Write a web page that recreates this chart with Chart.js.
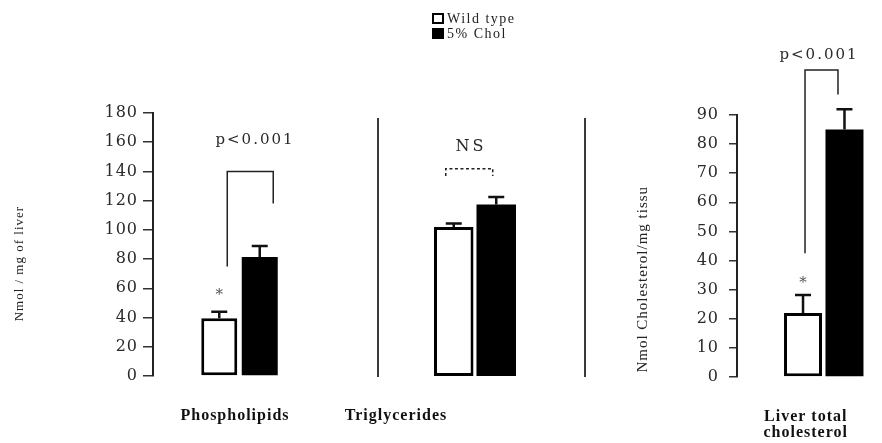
<!DOCTYPE html>
<html><head><meta charset="utf-8">
<script src="https://cdn.jsdelivr.net/npm/chart.js@4.4.1/dist/chart.umd.min.js"></script>
<style>
html,body{margin:0;padding:0;background:#fff;width:882px;height:443px;overflow:hidden;position:relative;}
.box{position:absolute;top:0;height:443px;}
</style></head><body>
<div class="box" style="left:0;width:330px"><canvas id="c1"></canvas></div>
<div class="box" style="left:330px;width:300px"><canvas id="c2"></canvas></div>
<div class="box" style="left:600px;width:320px"><canvas id="c3"></canvas></div>
<script>
// ---------- data ----------
const groupLabels = ['Wild type', '5% Chol'];

const phosphoLabels = ['Phospholipids'];
const phosphoWT = [39.5];
const phosphoChol = [81.5];
const phosphoWTErr = [4.5];
const phosphoCholErr = [7.5];
const phosphoTicks = [0, 20, 40, 60, 80, 100, 120, 140, 160, 180];
const phosphoSig = [75, 140, 118];      // left leg base, top, right leg base
const phosphoSigText = ['p<0.001', 161.5];
const phosphoStar = 57.5;

const trigLabels = ['Triglycerides'];
const trigWT = [102];
const trigChol = [117.5];
const trigWTErr = [2.5];
const trigCholErr = [5];
const trigSig = [137, 142, 137];
const trigSigText = ['NS', 157];

const cholLabels = [['Liver total', 'cholesterol']];
const cholWT = [22];
const cholChol = [85];
const cholWTErr = [6.2];
const cholCholErr = [7];
const cholTicks = [0, 10, 20, 30, 40, 50, 60, 70, 80, 90];
const cholSig = [42.5, 105.5, 97];
const cholSigText = ['p<0.001', 110.6];
const cholStar = 33.3;

// ---------- helpers ----------
const SERIF = "'Liberation Serif', 'Times New Roman', serif";
const DSERIF = "'DejaVu Serif', serif";

const spacing = { id: 'spacing', beforeDraw(chart) { chart.ctx.letterSpacing = '1px'; } };

function makeAnnot(cfg) {
  return {
    id: 'annot',
    afterDatasetsDraw(chart) {
      const ctx = chart.ctx, y = chart.scales.y;
      const a = chart.getDatasetMeta(0).data[0];
      const b = chart.getDatasetMeta(1).data[0];
      ctx.save();
      ctx.letterSpacing = '0px';
      // error bars
      chart.data.datasets.forEach((ds, i) => {
        chart.getDatasetMeta(i).data.forEach((bar, j) => {
          const top = y.getPixelForValue(ds.data[j] + ds.errors[j]);
          ctx.strokeStyle = '#111';
          ctx.lineWidth = 2.5;
          ctx.beginPath();
          ctx.moveTo(bar.x, bar.y);
          ctx.lineTo(bar.x, top);
          ctx.moveTo(bar.x - 8, top);
          ctx.lineTo(bar.x + 8, top);
          ctx.stroke();
        });
      });
      // significance bracket
      if (cfg.sig) {
        const x1 = a.x + cfg.dx1, x2 = b.x + cfg.dx2;
        ctx.strokeStyle = '#222';
        ctx.lineWidth = 1.5;
        ctx.setLineDash(cfg.dashed ? [3, 2.5] : []);
        ctx.beginPath();
        ctx.moveTo(x1, y.getPixelForValue(cfg.sig[0]));
        ctx.lineTo(x1, y.getPixelForValue(cfg.sig[1]));
        ctx.lineTo(x2, y.getPixelForValue(cfg.sig[1]));
        ctx.lineTo(x2, y.getPixelForValue(cfg.sig[2]));
        ctx.stroke();
        ctx.setLineDash([]);
        ctx.fillStyle = '#2a2a2a';
        ctx.font = cfg.textFont;
        ctx.letterSpacing = cfg.textSpacing;
        ctx.textAlign = 'center';
        ctx.textBaseline = 'middle';
        ctx.fillText(cfg.text[0], (a.x + b.x) / 2 + cfg.tdx, y.getPixelForValue(cfg.text[1]));
      }
      if (cfg.star !== undefined) {
        ctx.letterSpacing = '0px';
        ctx.fillStyle = '#555';
        ctx.font = "15px " + DSERIF;
        ctx.textAlign = 'center';
        ctx.textBaseline = 'middle';
        ctx.fillText('*', a.x, y.getPixelForValue(cfg.star) + 3);
      }
      // legend
      if (cfg.legend) {
        const L = cfg.legend;
        chart.data.datasets.forEach((ds, i) => {
          const yy = L.y + i * L.dy;
          ctx.fillStyle = ds.backgroundColor;
          ctx.fillRect(L.x, yy, 12, 11);
          ctx.strokeStyle = '#000';
          ctx.lineWidth = 2;
          ctx.strokeRect(L.x + 1, yy + 1, 10, 9);
          ctx.fillStyle = '#222';
          ctx.font = "14px " + SERIF;
          ctx.letterSpacing = '1.5px';
          ctx.textAlign = 'left';
          ctx.textBaseline = 'middle';
          ctx.fillText(ds.label, L.x + 15, yy + 6);
        });
      }
      ctx.restore();
    }
  };
}

function datasets(wt, chol, wtErr, cholErr, cp, bp) {
  return [
    { label: groupLabels[0], data: wt, errors: wtErr, backgroundColor: '#ffffff', borderColor: '#000',
      borderWidth: 3, borderSkipped: false, categoryPercentage: cp, barPercentage: bp },
    { label: groupLabels[1], data: chol, errors: cholErr, backgroundColor: '#000000', borderColor: '#000',
      borderWidth: 0, categoryPercentage: cp, barPercentage: bp }
  ];
}

function xAxis(height, pad, offset) {
  return {
    grid: { display: false, drawTicks: false },
    border: { display: false },
    ticks: { font: { family: SERIF, size: 16, weight: 'bold', lineHeight: 1.05 }, color: '#111',
             padding: pad, labelOffset: offset, maxRotation: 0, autoSkip: false },
    afterFit: s => { s.height = height; }
  };
}

const baseOpts = {
  responsive: true, maintainAspectRatio: false, animation: false,
  plugins: { legend: { display: false }, tooltip: { enabled: false } }
};

// ---------- chart 1 : phospholipids ----------
new Chart(document.getElementById('c1'), {
  type: 'bar',
  data: { labels: phosphoLabels, datasets: datasets(phosphoWT, phosphoChol, phosphoWTErr, phosphoCholErr, 0.468, 0.889) },
  options: Object.assign({}, baseOpts, {
    layout: { padding: { left: 0, right: 4, top: 113, bottom: 0 } },
    scales: {
      x: xAxis(67, 31, -4.5),
      y: {
        min: 0, max: 180,
        afterBuildTicks: s => { s.ticks = phosphoTicks.map(v => ({ value: v })); },
        grid: { drawOnChartArea: false, drawTicks: true, tickLength: 10, color: '#333', lineWidth: 1.5 },
        border: { display: true, color: '#222', width: 2 },
        ticks: { font: { family: DSERIF, size: 16 }, color: '#2a2a2a', padding: 5 },
        title: { display: true, text: 'Nmol / mg of liver' + '         ', font: { family: SERIF, size: 13 }, color: '#222', padding: 12 },
        afterFit: s => { s.width = 153; }
      }
    }
  }),
  plugins: [spacing, makeAnnot({ sig: phosphoSig, dx1: 8, dx2: 13.5, text: phosphoSigText, tdx: 15.5,
    textFont: "15px " + DSERIF, textSpacing: '2px', star: phosphoStar })]
});

// ---------- chart 2 : triglycerides ----------
new Chart(document.getElementById('c2'), {
  type: 'bar',
  data: { labels: trigLabels, datasets: datasets(trigWT, trigChol, trigWTErr, trigCholErr, 0.438, 0.93) },
  options: Object.assign({}, baseOpts, {
    layout: { padding: { left: 0, right: 0, top: 119, bottom: 0 } },
    scales: {
      x: xAxis(67, 31, -79),
      y: {
        min: 0, max: 176,
        ticks: { display: false }, grid: { display: false },
        border: { display: true, color: '#3a3a3a', width: 2 },
        afterFit: s => { s.width = 48; }
      },
      y2: {
        position: 'right', weight: 0, min: 0, max: 176,
        ticks: { display: false }, grid: { display: false },
        border: { display: false },
        afterFit: s => { s.width = 13; }
      },
      y3: {
        position: 'right', weight: 1, min: 0, max: 176,
        ticks: { display: false }, grid: { display: false },
        border: { display: true, color: '#3a3a3a', width: 2 },
        afterFit: s => { s.width = 45; }
      }
    }
  }),
  plugins: [spacing, makeAnnot({ sig: trigSig, dashed: true, dx1: -8, dx2: -3.5, text: trigSigText, tdx: -4,
    textFont: "16px " + DSERIF, textSpacing: '3px', legend: { x: 102, y: 13, dy: 15 } })]
});

// ---------- chart 3 : liver total cholesterol ----------
new Chart(document.getElementById('c3'), {
  type: 'bar',
  data: { labels: cholLabels, datasets: datasets(cholWT, cholChol, cholWTErr, cholCholErr, 0.478, 0.916) },
  options: Object.assign({}, baseOpts, {
    layout: { padding: { left: 0, right: 9.5, top: 115, bottom: 0 } },
    scales: {
      x: xAxis(66, 31, -18),
      y: {
        min: 0, max: 90,
        afterBuildTicks: s => { s.ticks = cholTicks.map(v => ({ value: v })); },
        grid: { drawOnChartArea: false, drawTicks: true, tickLength: 8, color: '#333', lineWidth: 1.5 },
        border: { display: true, color: '#222', width: 2 },
        ticks: { font: { family: DSERIF, size: 16 }, color: '#2a2a2a', padding: 10 },
        title: { display: true, text: 'Nmol Cholesterol/mg tissu' + '              ', font: { family: SERIF, size: 15 }, color: '#222', padding: 34 },
        afterFit: s => { s.width = 137; }
      }
    }
  }),
  plugins: [spacing, makeAnnot({ sig: cholSig, dx1: 2, dx2: -6.5, text: cholSigText, tdx: -4.75,
    textFont: "15px " + DSERIF, textSpacing: '2px', star: cholStar })]
});
</script>
</body></html>
